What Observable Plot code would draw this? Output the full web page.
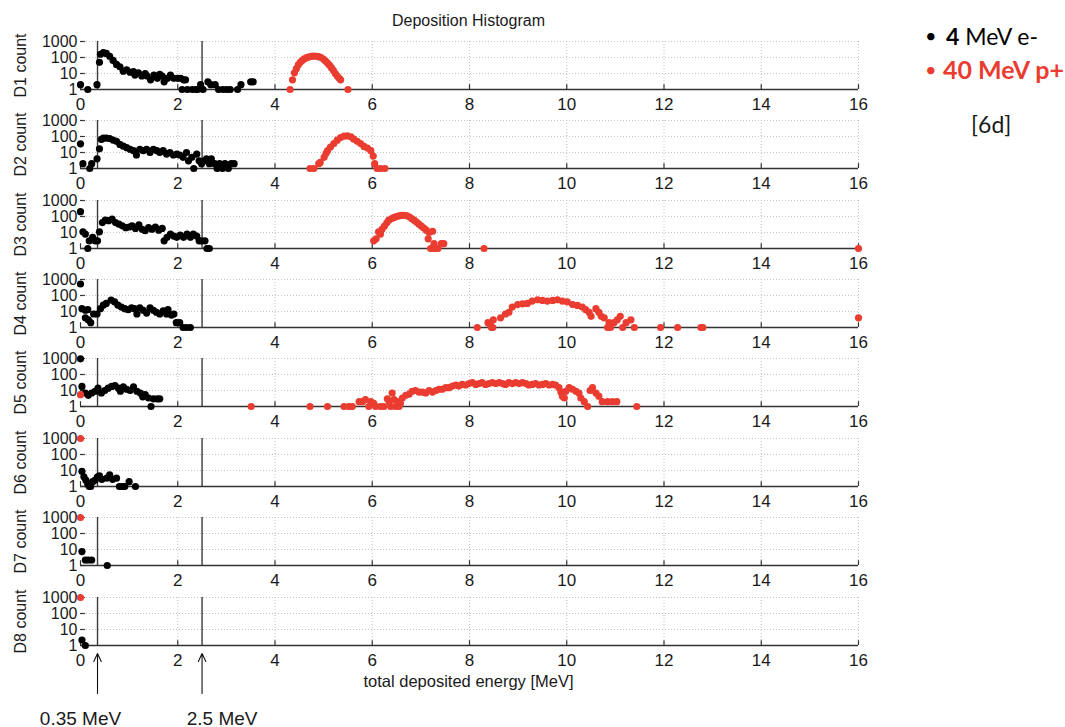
<!DOCTYPE html>
<html>
<head>
<meta charset="utf-8">
<script src="https://cdn.jsdelivr.net/npm/d3@7"></script>
<script src="https://cdn.jsdelivr.net/npm/@observablehq/plot@0.6"></script>
<style>
  body { margin: 0; background: #fff; }
  #chart { position: relative; width: 1065px; height: 727px; overflow: hidden;
           font-family: "Liberation Sans", Arial, sans-serif; color: #1a1a1a; }
  .abs { position: absolute; white-space: nowrap; line-height: 1; }
  .legend { font-family: Lato, "Open Sans", sans-serif; }
</style>
</head>
<body>
<div id="chart"></div>
<script>
// Axis ticks and annotation values
const energyTicks = [0, 2, 4, 6, 8, 10, 12, 14, 16];
const countTicks = [1, 10, 100, 1000];
const thresholds = [0.35, 2.5];
const thresholdLabels = ["0.35 MeV", "2.5 MeV"];
const detectors = ["D1", "D2", "D3", "D4", "D5", "D6", "D7", "D8"];

// Histogram counts, [energy MeV, count], 4 MeV electrons
const e1 = [[0,2],[0.15,1],[0.34,2],[0.39,50],[0.41,160],[0.47,200],[0.53,180],[0.6,120],[0.67,66],[0.74,37],[0.81,26],[0.88,14],[0.95,17],[1.02,12],[1.09,13],[1.12,8],[1.19,11],[1.26,7],[1.33,10],[1.37,7],[1.44,4],[1.51,8],[1.58,5],[1.63,9],[1.68,7],[1.72,3],[1.79,5],[1.85,8],[1.92,5],[2.0,5],[2.06,5],[2.12,4],[2.16,4],[2.09,1],[2.2,1],[2.3,1],[2.37,1],[2.41,1],[2.47,2],[2.52,1],[2.62,3],[2.68,2],[2.77,2],[2.84,1],[2.93,1],[3.01,1],[3.08,1],[3.23,1],[3.3,2],[3.5,3],[3.55,3]];
const e2 = [[0,35],[0.05,2],[0.19,1],[0.23,2],[0.34,4],[0.39,17],[0.43,66],[0.47,80],[0.53,80],[0.6,75],[0.67,60],[0.74,50],[0.81,32],[0.88,25],[0.95,20],[1.02,16],[1.09,13],[1.15,7],[1.22,16],[1.29,13],[1.36,16],[1.43,10],[1.5,16],[1.57,13],[1.63,10],[1.7,13],[1.77,8],[1.84,10],[1.91,7],[1.98,8],[2.04,7],[2.11,5],[2.18,10],[2.22,3],[2.29,5],[2.33,1],[2.39,8],[2.44,3],[2.49,2],[2.54,3],[2.59,4],[2.65,2],[2.69,4],[2.76,2],[2.81,1],[2.86,2],[2.92,1],[2.97,2],[3.04,1],[3.1,2],[3.16,2]];
const e3 = [[0,200],[0.05,11],[0.1,8],[0.15,1],[0.18,3],[0.25,5],[0.3,3],[0.35,3],[0.39,11],[0.45,42],[0.51,60],[0.58,55],[0.65,70],[0.72,42],[0.79,33],[0.86,26],[0.93,20],[1.0,22],[1.06,26],[1.13,18],[1.2,30],[1.27,16],[1.33,13],[1.4,20],[1.47,16],[1.54,22],[1.61,14],[1.68,18],[1.72,3],[1.78,5],[1.85,8],[1.92,6],[1.98,5],[2.05,7],[2.12,5],[2.19,8],[2.26,5],[2.32,8],[2.39,6],[2.44,3],[2.49,3],[2.56,3],[2.6,1],[2.65,1]];
const e4 = [[0,525],[0.03,15],[0.1,12],[0.1,4],[0.15,13],[0.16,3],[0.21,2],[0.27,7],[0.34,7],[0.41,15],[0.47,25],[0.53,32],[0.63,52],[0.7,40],[0.77,25],[0.84,19],[0.91,15],[0.98,13],[1.05,17],[1.11,15],[1.16,7],[1.22,17],[1.29,12],[1.36,8],[1.43,17],[1.5,12],[1.56,9],[1.63,7],[1.7,11],[1.77,7],[1.8,13],[1.87,6],[1.92,7],[1.97,2],[2.04,2],[2.11,1],[2.18,1],[2.26,1]];
const e5 = [[0,950],[0.03,18],[0.1,7],[0.16,5],[0.23,7],[0.3,9],[0.36,14],[0.43,7],[0.5,10],[0.57,14],[0.64,18],[0.71,20],[0.78,14],[0.82,9],[0.88,17],[0.95,12],[1.02,10],[1.09,17],[1.16,9],[1.23,7],[1.28,4],[1.33,5.5],[1.4,3.4],[1.45,1],[1.5,3],[1.58,3],[1.63,3]];
const e6 = [[0.03,9],[0.07,4],[0.11,2.5],[0.15,1.4],[0.18,1],[0.21,1],[0.25,2],[0.3,2.5],[0.35,4],[0.39,4.6],[0.44,2.8],[0.54,3.3],[0.6,5.3],[0.66,2.8],[0.74,3.3],[0.8,1],[0.86,1],[0.91,1],[1.0,2],[1.13,1]];
const e7 = [[0.03,7.4],[0.1,2.2],[0.16,2.2],[0.23,2.2],[0.55,1]];
const e8 = [[0.03,2.2],[0.1,1]];

// Histogram counts, [energy MeV, count], 40 MeV protons
const p1 = [[4.31,1],[4.36,4],[4.40,11],[4.44,20],[4.48,35],[4.52,50],[4.56,65],[4.60,82],[4.65,98],[4.70,110],[4.75,118],[4.80,122],[4.85,120],[4.90,112],[4.95,100],[5.00,78],[5.04,60],[5.08,45],[5.12,33],[5.16,23],[5.20,16],[5.24,10],[5.28,7],[5.32,5],[5.35,4],[5.50,1]];
const p2 = [[4.72,1],[4.80,1],[4.90,2],[4.93,2.4],[5.01,5],[5.05,9],[5.08,13],[5.14,22],[5.21,36],[5.28,59],[5.35,86],[5.42,105],[5.49,110],[5.56,95],[5.62,68],[5.69,50],[5.76,36],[5.83,24],[5.90,19],[5.97,13],[6.02,6],[6.05,2],[6.10,1],[6.17,1],[6.26,1]];
const p3 = [[6.03,3],[6.08,4],[6.13,11],[6.17,8],[6.20,16],[6.25,25],[6.30,40],[6.34,59],[6.40,75],[6.45,87],[6.50,100],[6.55,110],[6.60,118],[6.65,120],[6.70,115],[6.76,95],[6.81,75],[6.86,59],[6.91,45],[6.96,33],[7.01,25],[7.06,19],[7.11,14],[7.15,4],[7.17,10],[7.24,12],[7.20,1],[7.26,1],[7.30,1],[7.35,1],[7.27,2],[7.42,2],[7.47,2],[8.3,1],[16,1]];
const p4 = [[8.16,1],[8.38,2],[8.43,1.5],[8.45,1],[8.49,3],[8.48,1],[8.64,4],[8.74,7],[8.81,9],[8.88,19],[8.99,27],[9.09,30],[9.19,32],[9.29,45],[9.4,54],[9.5,49],[9.6,45],[9.71,49],[9.81,54],[9.91,45],[10.01,40],[10.12,27],[10.22,24],[10.32,19],[10.39,13],[10.46,9],[10.5,5],[10.6,15],[10.66,9],[10.71,5],[10.77,4],[10.84,1],[10.9,1],[10.87,2],[10.97,2],[11.04,3],[11.1,5],[11.15,1],[11.22,2],[11.32,3],[11.39,1],[11.93,1],[12.28,1],[12.76,1],[12.8,1],[16,4]];
const p5 = [[0,5.5],[3.51,1],[4.72,1],[5.08,1],[5.42,1],[5.52,1],[5.59,1],[5.73,2],[5.8,2],[5.86,2.7],[5.93,1],[5.97,2],[6.03,1.6],[6.07,1],[6.17,1],[6.24,1],[6.31,3],[6.35,2],[6.38,1],[6.41,7],[6.45,2.7],[6.48,1],[6.52,2],[6.55,1],[6.58,1.6],[6.62,3.4],[6.69,5],[6.76,6],[6.82,9],[6.89,10],[6.96,8],[7.03,8],[7.1,7],[7.17,10],[7.24,8],[7.31,10],[7.37,12],[7.44,12],[7.51,15],[7.58,15],[7.65,19],[7.72,22],[7.78,19],[7.85,24],[7.92,22],[7.99,27],[8.06,31],[8.13,24],[8.2,27],[8.26,31],[8.33,24],[8.4,27],[8.47,31],[8.54,27],[8.61,31],[8.68,27],[8.74,24],[8.81,31],[8.88,27],[8.95,31],[9.02,27],[9.09,31],[9.16,27],[9.22,22],[9.29,24],[9.36,27],[9.43,22],[9.5,24],[9.57,27],[9.64,22],[9.71,24],[9.77,22],[9.84,15],[9.88,8],[9.91,4.4],[9.95,3.4],[9.98,9],[10.05,15],[10.12,12],[10.19,9],[10.25,7],[10.29,3.4],[10.36,2],[10.43,1],[10.48,10],[10.53,15],[10.6,7],[10.66,4.4],[10.73,2],[10.84,2],[10.94,2],[11.03,2],[11.44,1]];
const p6 = [[0,1000]];
const p7 = [[0,1000]];
const p8 = [[0,1000]];

const electrons = [e1, e2, e3, e4, e5, e6, e7, e8];
const protons = [p1, p2, p3, p4, p5, p6, p7, p8];

const RED = "#ea3c30";
const AXIS = "#333";
const GRID = "#c4c4c4";
const FONT = "'Liberation Sans', Arial, sans-serif";

const chart = document.getElementById("chart");

function place(el, left, top) {
  el.style.position = "absolute";
  el.style.left = left + "px";
  el.style.top = top + "px";
  chart.appendChild(el);
}

function textDiv(html, cls, css) {
  const d = document.createElement("div");
  d.className = "abs " + (cls || "");
  d.innerHTML = html;
  Object.assign(d.style, css);
  chart.appendChild(d);
  return d;
}

const toRows = pairs => pairs.map(([x, y]) => ({x, y}));

// One log-count panel per detector
const panelTop0 = 40.7, panelStep = 79.4, marginTop = 8;
detectors.forEach((name, i) => {
  const svg = Plot.plot({
    width: 900, height: 82,
    marginTop, marginBottom: 26, marginLeft: 80, marginRight: 42,
    style: {background: "transparent", overflow: "visible", fontFamily: FONT, color: "#1a1a1a"},
    x: {domain: [0, 16]},
    y: {type: "log", domain: [1, 1000]},
    marks: [
      Plot.gridX(energyTicks.slice(1), {stroke: GRID, strokeOpacity: 1, strokeDasharray: "1,2"}),
      Plot.gridY(countTicks.slice(1), {stroke: GRID, strokeOpacity: 1, strokeDasharray: "1,2"}),
      Plot.ruleX(thresholds, {y1: 1, y2: 1000, stroke: "#3c3c3c", strokeWidth: 1.4}),
      // inward tick marks
      Plot.ruleX(energyTicks, {y1: 1, y2: 2, stroke: AXIS, strokeWidth: 1.2}),
      Plot.ruleY(countTicks, {x1: 0, x2: 0.1, stroke: AXIS, strokeWidth: 1.2}),
      Plot.ruleY([1], {stroke: AXIS, strokeWidth: 1.6}),
      Plot.axisX({ticks: energyTicks, tickSize: 0, tickPadding: 8, fontSize: 17, label: null}),
      Plot.axisY({ticks: countTicks, tickSize: 0, tickPadding: 3, fontSize: 16,
                  tickFormat: d => String(d),
                  label: `${name} count`, labelAnchor: "center", labelArrow: "none", labelOffset: 66}),
      Plot.dot(toRows(electrons[i]), {x: "x", y: "y", r: 3.6, fill: "#000", stroke: "none"}),
      Plot.dot(toRows(protons[i]), {x: "x", y: "y", r: 3.6, fill: RED, stroke: "none"})
    ]
  });
  place(svg, 0, panelTop0 + panelStep * i - marginTop);
});

// Threshold arrows and labels under the last panel
const base8 = panelTop0 + panelStep * 7 + 48;
const notes = thresholds.map((x, k) => ({x, label: thresholdLabels[k]}));
const ann = Plot.plot({
  width: 900, height: 82,
  marginTop: 8, marginBottom: 34, marginLeft: 80, marginRight: 42,
  style: {background: "transparent", overflow: "visible", fontFamily: FONT, color: "#1a1a1a"},
  x: {domain: [0, 16], axis: null},
  y: {domain: [0, 1], axis: null},
  marks: [
    Plot.arrow(notes, {x1: "x", x2: "x", y1: 0, y2: 1, stroke: "#111", strokeWidth: 1.1, headLength: 12, headAngle: 50}),
    Plot.text(notes.slice(0, 1), {x: "x", text: "label", frameAnchor: "bottom", lineAnchor: "top", dy: 18, dx: -17, fontSize: 19, fill: "#1a1a1a"}),
    Plot.text(notes.slice(1), {x: "x", text: "label", frameAnchor: "bottom", lineAnchor: "top", dy: 18, dx: 20, fontSize: 19, fill: "#1a1a1a"})
  ]
});
place(ann, 0, base8);

// Title and axis title
textDiv("Deposition Histogram", "", {left: "0px", width: "937px", textAlign: "center", top: "13px", fontSize: "16px"});
textDiv("total deposited energy [MeV]", "", {left: "0px", width: "937px", textAlign: "center", top: "673px", fontSize: "16.5px"});

// Legend
textDiv("•", "legend", {left: "925px", top: "25px", fontSize: "20px", color: "#000"});
textDiv("<b>4</b> MeV e-", "legend", {left: "946px", top: "25px", fontSize: "23px", color: "#000"});
textDiv("•", "legend", {left: "925px", top: "59px", fontSize: "20px", color: RED});
textDiv("<b>40 MeV p+</b>", "legend", {left: "943px", top: "57px", fontSize: "25px", color: RED});
textDiv("[6d]", "legend", {left: "971px", top: "113px", fontSize: "23px", color: "#1a1a1a"});
</script>
</body>
</html>
